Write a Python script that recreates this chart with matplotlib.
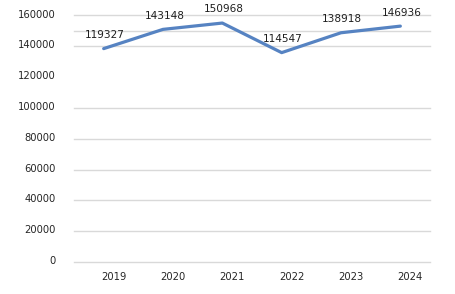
import matplotlib
matplotlib.use("Agg")
import matplotlib.pyplot as plt
import matplotlib.transforms as mtransforms

# values; the labels printed above the points are different numbers
years = ["2019", "2020", "2021", "2022", "2023", "2024"]
line_values = [138500, 151000, 155100, 135900, 148800, 153100]
point_labels = ["119327", "143148", "150968", "114547", "138918", "146936"]
y_ticks = [0, 20000, 40000, 60000, 80000, 100000, 120000, 140000, 160000]
grid_values = [0, 20000, 40000, 60000, 80000, 100000, 140000, 150000, 160000]

fig = plt.figure(figsize=(4.56, 2.94), dpi=100, facecolor="white")
ax = fig.add_axes([74 / 456, 1 - 262 / 294, 356 / 456, 246.5 / 294])
ax.set_xlim(-0.5, len(years) - 0.5)
ax.set_ylim(0, 160000)

for g in grid_values:
    ax.axhline(g, color="#d9d9d9", lw=1.0, zorder=1, clip_on=False)

x = list(range(len(years)))
ax.plot(x, line_values, color="#5683c2", lw=2.3, solid_capstyle="round",
        solid_joinstyle="round", zorder=3)

for xi, yi, lab in zip(x, line_values, point_labels):
    ax.annotate(lab, (xi, yi), xytext=(1, 9.8), textcoords="offset points",
                ha="center", va="center", fontsize=7.6, color="#1f1f1f")

ax.set_xticks(x)
ax.set_xticklabels(years, fontsize=7.2, color="#262626")
ax.set_yticks(y_ticks)
ax.set_yticklabels([str(v) for v in y_ticks], fontsize=7.2, color="#262626")
ax.tick_params(axis="both", length=0)
ax.tick_params(axis="x", pad=7.5)
ax.tick_params(axis="y", pad=13)

shift = mtransforms.ScaledTranslation(10 / 100, 0, fig.dpi_scale_trans)
for lbl in ax.get_xticklabels():
    lbl.set_transform(lbl.get_transform() + shift)
yshift = mtransforms.ScaledTranslation(0, 2 / 100, fig.dpi_scale_trans)
for lbl in ax.get_yticklabels():
    lbl.set_transform(lbl.get_transform() + yshift)

for spine in ax.spines.values():
    spine.set_visible(False)

fig.savefig("out.png", dpi=100, facecolor="white")
plt.close(fig)
